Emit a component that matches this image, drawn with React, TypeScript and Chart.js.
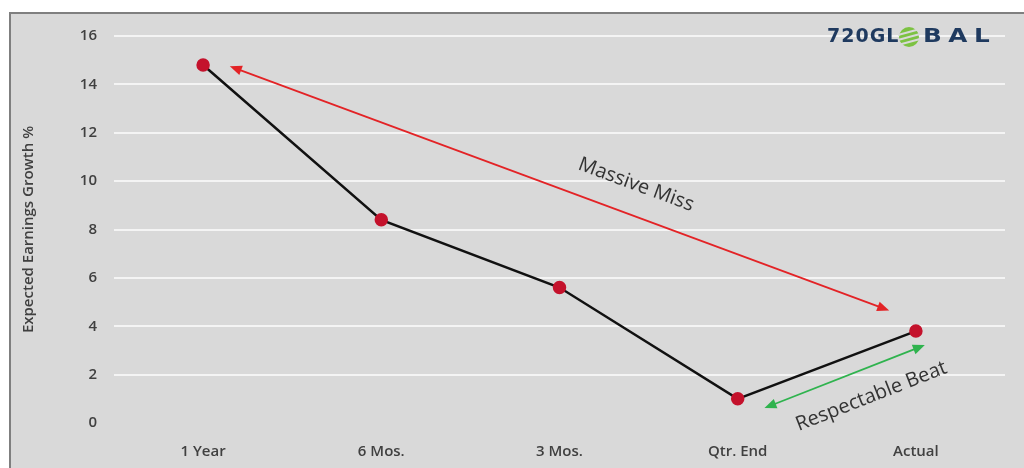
import React, { useEffect, useRef } from "react";
import { Chart, registerables } from "chart.js";

Chart.register(...registerables);

const categories = ["1 Year", "6 Mos.", "3 Mos.", "Qtr. End", "Actual"];
const growthValues = [14.8, 8.4, 5.6, 1.0, 3.8];
const yTicks = [0, 2, 4, 6, 8, 10, 12, 14, 16];
const yTitle = "Expected Earnings Growth %";
const missArrow = [[0.15, 14.75], [3.85, 4.65]];
const beatArrow = [[3.15, 0.62], [4.05, 3.22]];
const missLabel = { text: "Massive Miss", x: 2.43, y: 9.85 };
const beatLabel = { text: "Respectable Beat", x: 3.75, y: 1.1 };
const logoParts = ["720GL", "BAL"];

const FONT = "'Open Sans', sans-serif";

function drawArrow(ctx: CanvasRenderingContext2D, x1: number, y1: number, x2: number, y2: number, color: string) {
  const ang = Math.atan2(y2 - y1, x2 - x1);
  const hl = 12, hw = 5;
  ctx.save();
  ctx.strokeStyle = color;
  ctx.fillStyle = color;
  ctx.lineWidth = 1.8;
  ctx.beginPath();
  ctx.moveTo(x1 + Math.cos(ang) * hl * 0.8, y1 + Math.sin(ang) * hl * 0.8);
  ctx.lineTo(x2 - Math.cos(ang) * hl * 0.8, y2 - Math.sin(ang) * hl * 0.8);
  ctx.stroke();
  const head = (px: number, py: number, a: number) => {
    ctx.beginPath();
    ctx.moveTo(px, py);
    ctx.lineTo(px - Math.cos(a) * hl - Math.sin(a) * hw, py - Math.sin(a) * hl + Math.cos(a) * hw);
    ctx.lineTo(px - Math.cos(a) * hl + Math.sin(a) * hw, py - Math.sin(a) * hl - Math.cos(a) * hw);
    ctx.closePath();
    ctx.fill();
  };
  head(x2, y2, ang);
  head(x1, y1, ang + Math.PI);
  ctx.restore();
}

const decorPlugin = {
  id: "decor",
  beforeDraw(chart: any) {
    const ctx = chart.ctx as CanvasRenderingContext2D;
    ctx.save();
    ctx.fillStyle = "#ffffff";
    ctx.fillRect(0, 0, chart.width, chart.height);
    ctx.fillStyle = "#d9d9d9";
    ctx.fillRect(10, 13, chart.width - 10, chart.height - 13);
    ctx.strokeStyle = "#7f7f7f";
    ctx.lineWidth = 2;
    ctx.beginPath();
    ctx.moveTo(10, chart.height);
    ctx.lineTo(10, 13);
    ctx.lineTo(chart.width, 13);
    ctx.stroke();
    ctx.restore();
  },
  afterDraw(chart: any) {
    const ctx = chart.ctx as CanvasRenderingContext2D;
    const xs = chart.scales.x, ys = chart.scales.y;
    const px = (v: number) => xs.getPixelForValue(v);
    const py = (v: number) => ys.getPixelForValue(v);
    drawArrow(ctx, px(missArrow[0][0]), py(missArrow[0][1]), px(missArrow[1][0]), py(missArrow[1][1]), "#e32326");
    drawArrow(ctx, px(beatArrow[0][0]), py(beatArrow[0][1]), px(beatArrow[1][0]), py(beatArrow[1][1]), "#2fb34e");

    const label = (l: { text: string; x: number; y: number }, a: number[][]) => {
      const ang = Math.atan2(py(a[1][1]) - py(a[0][1]), px(a[1][0]) - px(a[0][0]));
      ctx.save();
      ctx.translate(px(l.x), py(l.y));
      ctx.rotate(ang);
      ctx.fillStyle = "#333333";
      ctx.font = "20px " + FONT;
      ctx.textAlign = "center";
      ctx.textBaseline = "middle";
      ctx.fillText(l.text, 0, 0);
      ctx.restore();
    };
    label(missLabel, missArrow);
    label(beatLabel, beatArrow);

    // logo
    ctx.save();
    ctx.font = "bold 19px 'DejaVu Sans', sans-serif";
    (ctx as any).letterSpacing = "1px";
    ctx.textBaseline = "middle";
    ctx.fillStyle = "#1f3a5f";
    const y = 37;
    ctx.fillText(logoParts[0], 827, y);
    const cx = 909, cy = y;
    ctx.fillStyle = "#7cc242";
    ctx.beginPath();
    ctx.arc(cx, cy, 10, 0, Math.PI * 2);
    ctx.fill();
    ctx.strokeStyle = "#d9d9d9";
    ctx.lineWidth = 2;
    for (let i = -1; i <= 1; i++) {
      ctx.beginPath();
      ctx.moveTo(cx - 11, cy + i * 5 + 3);
      ctx.lineTo(cx + 11, cy + i * 5 - 3);
      ctx.stroke();
    }
    ctx.fillStyle = "#1f3a5f";
    ctx.translate(923, y);
    ctx.scale(1.3, 1);
    (ctx as any).letterSpacing = "5px";
    ctx.fillText(logoParts[1], 0, 0);
    ctx.restore();
  },
};

export default function App() {
  const ref = useRef<HTMLCanvasElement>(null);
  useEffect(() => {
    document.body.style.margin = "0";
    const chart = new Chart(ref.current!, {
      type: "line",
      data: {
        labels: categories,
        datasets: [
          {
            data: growthValues,
            borderColor: "#111111",
            borderWidth: 2.5,
            pointBackgroundColor: "#c4122c",
            pointBorderColor: "#c4122c",
            pointRadius: 5.5,
            tension: 0,
          },
        ],
      },
      options: {
        responsive: false,
        animation: false,
        devicePixelRatio: 1,
        layout: { padding: { left: 18, right: 19, top: 36, bottom: 0 } },
        plugins: { legend: { display: false }, tooltip: { enabled: false } },
        scales: {
          x: {
            offset: true,
            grid: { display: false },
            border: { display: false },
            ticks: { color: "#404040", font: { size: 15, weight: "600", family: FONT }, padding: 12 },
            afterFit: (s: any) => { s.height = 45; },
          },
          y: {
            min: 0,
            max: 16,
            afterBuildTicks: (s: any) => { s.ticks = yTicks.map((v) => ({ value: v })); },
            grid: {
              drawTicks: false,
              lineWidth: 2,
              color: (c: any) => (c.tick && c.tick.value === 0 ? "rgba(0,0,0,0)" : "#f4f4f4"),
            },
            border: { display: false },
            ticks: { color: "#404040", font: { size: 15, weight: "600", family: FONT }, padding: 17 },
            title: {
              display: true,
              text: yTitle,
              color: "#404040",
              font: { size: 15, weight: "600", family: FONT },
              padding: { top: 2, bottom: 0 },
            },
            afterFit: (s: any) => { s.width = 96; },
          },
        },
      },
      plugins: [decorPlugin],
    });
    return () => chart.destroy();
  }, []);
  return <canvas ref={ref} width={1024} height={468} style={{ display: "block" }} />;
}
